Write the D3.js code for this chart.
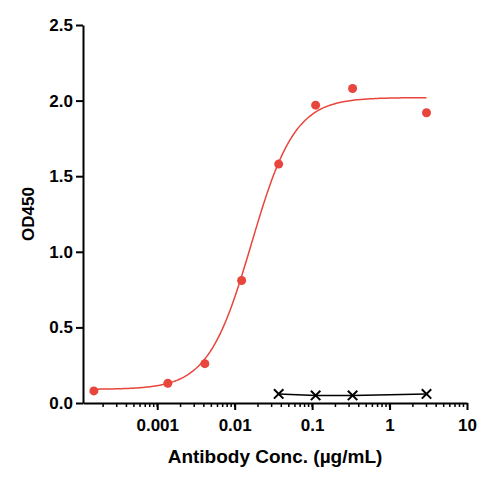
<!DOCTYPE html>
<html><head><meta charset="utf-8">
<script src="https://cdn.jsdelivr.net/npm/d3@7"></script>
<style>body{margin:0;background:#fff}text{font-family:"Liberation Sans",Arial,sans-serif;font-weight:bold}</style>
</head><body><svg id="c" width="485" height="484"></svg>
<script>
// Sample (red) and control (black) series
const redConc = [0.000152, 0.00137, 0.00412, 0.0123, 0.037, 0.111, 0.333, 3];
const redOD = [0.08, 0.13, 0.26, 0.81, 1.58, 1.97, 2.08, 1.92];
const ctrlConc = [0.037, 0.111, 0.333, 3];
const ctrlOD = [0.06, 0.05, 0.05, 0.06];
// 4PL fit parameters: bottom, top, EC50, hill
const fit = [0.09, 2.02, 0.0165, 1.55];
const xTicks = [0.001, 0.01, 0.1, 1, 10];
const yTicks = [0, 0.5, 1.0, 1.5, 2.0, 2.5];

const svg = d3.select('#c');
const x = d3.scaleLog().domain([1.1e-4, 10]).range([83, 467]);
const y = d3.scaleLinear().domain([0, 2.5]).range([403, 25]);

// minor ticks
const minor = [];
for (let e = -4; e < 1; e++) for (let k = 1; k < 10; k++) {
  const v = k * Math.pow(10, e);
  if (v >= 1.1e-4 && v <= 10) minor.push(v);
}
svg.append('g').selectAll('line').data(minor).enter().append('line')
  .attr('x1', d => x(d)).attr('x2', d => x(d)).attr('y1', 403).attr('y2', 407)
  .attr('stroke', '#000').attr('stroke-width', 1.5);

const xa = svg.append('g').attr('transform', 'translate(0,403)')
  .call(d3.axisBottom(x).tickValues(xTicks).tickFormat(d => String(d)).tickSize(7).tickSizeOuter(0));
const ya = svg.append('g').attr('transform', 'translate(83,0)')
  .call(d3.axisLeft(y).tickValues(yTicks).tickFormat(d3.format('.1f')).tickSize(7).tickSizeOuter(0));
[xa, ya].forEach(a => {
  a.select('.domain').attr('stroke-width', 2);
  a.selectAll('.tick line').attr('stroke-width', 2);
  a.selectAll('text').attr('font-size', 17).attr('font-family', '"Liberation Sans",Arial,sans-serif').attr('font-weight', 'bold').attr('fill', '#000');
});
xa.selectAll('text').attr('dy', '1.05em');

svg.append('text').attr('x', 275).attr('y', 463).attr('text-anchor', 'middle').attr('font-size', 19).text('Antibody Conc. (µg/mL)');
svg.append('text').attr('transform', 'translate(34,214) rotate(-90)').attr('text-anchor', 'middle').attr('font-size', 17).text('OD450');

// fitted curve
const f = c => fit[0] + (fit[1] - fit[0]) / (1 + Math.pow(fit[2] / c, fit[3]));
const cs = d3.range(0, 201).map(i => Math.pow(10, Math.log10(1.5e-4) + i * (Math.log10(3) - Math.log10(1.5e-4)) / 200));
svg.append('path').datum(cs).attr('fill', 'none').attr('stroke', '#e8453c').attr('stroke-width', 1.5)
  .attr('d', d3.line().x(d => x(d)).y(d => y(f(d))));
svg.append('g').selectAll('circle').data(redConc).enter().append('circle')
  .attr('cx', d => x(d)).attr('cy', (d, i) => y(redOD[i])).attr('r', 4.5).attr('fill', '#e8453c');

// control
svg.append('path').datum(ctrlConc).attr('fill', 'none').attr('stroke', '#000').attr('stroke-width', 1.5)
  .attr('d', d3.line().x(d => x(d)).y((d, i) => y(ctrlOD[i])));
const cross = d3.symbol().type(d3.symbolTimes).size(60);
svg.append('g').selectAll('path').data(ctrlConc).enter().append('path')
  .attr('transform', (d, i) => `translate(${x(d)},${y(ctrlOD[i])})`).attr('d', cross)
  .attr('fill', 'none').attr('stroke', '#000').attr('stroke-width', 2);
</script></body></html>
